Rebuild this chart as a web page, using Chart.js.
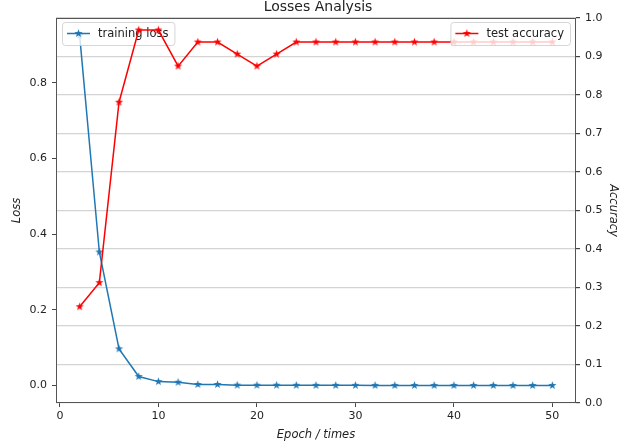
<!DOCTYPE html>
<html>
<head>
<meta charset="utf-8">
<script src="https://cdn.jsdelivr.net/npm/chart.js@4"></script>
<style>
  html, body { margin: 0; padding: 0; background: #fff; }
  #wrap { width: 636px; height: 448px; }
</style>
</head>
<body>
<div id="wrap"><canvas id="lossChart" width="636" height="448"></canvas></div>
<script>
let epochs = [2, 4, 6, 8, 10, 12, 14, 16, 18, 20, 22, 24, 26, 28, 30, 32, 34, 36, 38, 40, 42, 44, 46, 48, 50];
let trainingLoss = [0.925, 0.353, 0.097, 0.024, 0.0105, 0.0087, 0.003, 0.003, 0.0012, 0.001, 0.001, 0.0008, 0.0007,
    0.0006, 0.0006, 0.0005, 0.0005, 0.0005, 0.0004, 0.0004, 0.0004, 0.0004, 0.0003, 0.0003, 0.0003];
let testAccuracy = [0.25, 0.3125, 0.78125, 0.96875, 0.96875, 0.875, 0.9375, 0.9375, 0.90625, 0.875, 0.90625, 0.9375,
    0.9375, 0.9375, 0.9375, 0.9375, 0.9375, 0.9375, 0.9375, 0.9375, 0.9375, 0.9375, 0.9375, 0.9375, 0.9375];
let xTicks = [0, 10, 20, 30, 40, 50];
let lossTicks = [0, 0.2, 0.4, 0.6, 0.8];
let accTicks = [0, 0.1, 0.2, 0.3, 0.4, 0.5, 0.6, 0.7, 0.8, 0.9, 1.0];

const BLUE = "#1f77b4";
const RED = "#ff0000";
const FONT = "'DejaVu Sans', sans-serif";

// filled star like matplotlib '*'
function starImage(color) {
    let c = document.createElement("canvas");
    c.width = 11; c.height = 11;
    let g = c.getContext("2d");
    g.fillStyle = color;
    g.beginPath();
    for (let i = 0; i < 10; i++) {
        let r = i % 2 ? 1.7 : 4.3;
        let a = -Math.PI / 2 + i * Math.PI / 5;
        g.lineTo(5.5 + r * Math.cos(a), 5.5 + r * Math.sin(a));
    }
    g.closePath();
    g.fill();
    return c;
}
let blueStar = starImage(BLUE);
let redStar = starImage(RED);

function drawLegend(ctx, x, y, label, color, star, alignRight) {
    ctx.save();
    ctx.font = "11.5px " + FONT;
    let w = 37 + ctx.measureText(label).width + 5;
    let h = 23;
    if (alignRight) x = x - w;
    ctx.beginPath();
    ctx.roundRect(x + 0.5, y + 0.5, w, h, 3);
    ctx.fillStyle = "rgba(255,255,255,0.8)";
    ctx.fill();
    ctx.strokeStyle = "rgba(204,204,204,0.8)";
    ctx.lineWidth = 1;
    ctx.stroke();
    ctx.strokeStyle = color;
    ctx.lineWidth = 1.5;
    ctx.beginPath();
    ctx.moveTo(x + 5, y + h / 2);
    ctx.lineTo(x + 28, y + h / 2);
    ctx.stroke();
    ctx.drawImage(star, x + 16.5 - 5.5, y + h / 2 - 5.5);
    ctx.fillStyle = "#222";
    ctx.textBaseline = "middle";
    ctx.fillText(label, x + 36, y + h / 2 + 0.5);
    ctx.restore();
}

const legendsAndFrame = {
    id: "legendsAndFrame",
    afterDatasetDraw(chart, args) {
        if (args.index === 0) {
            let a = chart.chartArea;
            drawLegend(chart.ctx, a.left + 6, a.top + 4, "training loss", BLUE, blueStar, false);
        }
    },
    afterDatasetsDraw(chart) {
        let a = chart.chartArea;
        let ctx = chart.ctx;
        drawLegend(ctx, a.right - 6, a.top + 4, "test accuracy", RED, redStar, true);
        ctx.save();
        ctx.strokeStyle = "#555";
        ctx.lineWidth = 1;
        ctx.strokeRect(Math.round(a.left) + 0.5, Math.round(a.top) + 0.5, Math.round(a.right - a.left) - 1, Math.round(a.bottom - a.top) - 1);
        ctx.restore();
    }
};

let tickFont = { family: FONT, size: 11 };
let titleFont = { family: FONT, size: 11.5, style: "italic" };

let ctx = document.getElementById("lossChart").getContext("2d");
let chartInstance = new Chart(ctx, {
    type: "line",
    data: {
        datasets: [{
            label: "training loss",
            data: epochs.map((e, i) => ({ x: e, y: trainingLoss[i] })),
            borderColor: BLUE,
            backgroundColor: BLUE,
            borderWidth: 1.5,
            pointStyle: blueStar,
            pointRadius: 4,
            yAxisID: "y",
            order: 1
        }, {
            label: "test accuracy",
            data: epochs.map((e, i) => ({ x: e, y: testAccuracy[i] })),
            borderColor: RED,
            backgroundColor: RED,
            borderWidth: 1.5,
            pointStyle: redStar,
            pointRadius: 4,
            yAxisID: "y2",
            order: 0
        }]
    },
    options: {
        responsive: false,
        animation: false,
        devicePixelRatio: 1,
        layout: { padding: 0 },
        plugins: {
            legend: { display: false },
            tooltip: { enabled: false },
            title: {
                display: true,
                text: "Losses Analysis",
                color: "#222",
                font: { family: FONT, size: 14, weight: "normal", lineHeight: 1.0 },
                padding: { top: 0, bottom: 4 }
            }
        },
        scales: {
            x: {
                type: "linear",
                min: -0.4,
                max: 52.4,
                afterBuildTicks: s => { s.ticks = xTicks.map(v => ({ value: v })); },
                afterFit: s => { s.height = 45; },
                ticks: { color: "#222", font: tickFont, padding: 3, maxRotation: 0 },
                grid: { drawOnChartArea: false, tickLength: 4, tickColor: "#444" },
                border: { display: false },
                title: { display: true, text: "Epoch / times", color: "#222", font: titleFont, padding: { top: 0, bottom: 6.2 } }
            },
            y: {
                position: "left",
                min: -0.046,
                max: 0.971,
                afterBuildTicks: s => { s.ticks = lossTicks.map(v => ({ value: v })); },
                afterFit: s => { s.width = 56; },
                ticks: { color: "#222", font: tickFont, padding: 5, callback: v => v.toFixed(1) },
                grid: { drawOnChartArea: false, tickLength: 4, tickColor: "#444" },
                border: { display: false },
                title: { display: true, text: "Loss", color: "#222", font: titleFont, padding: { top: 10.2, bottom: 0 } }
            },
            y2: {
                position: "right",
                min: 0,
                max: 1,
                afterBuildTicks: s => { s.ticks = accTicks.map(v => ({ value: v })); },
                afterFit: s => { s.width = 60; },
                ticks: { color: "#222", font: tickFont, padding: 5, callback: v => v.toFixed(1) },
                grid: { color: "#d4d4d4", lineWidth: 1.2, tickLength: 4, tickColor: "#444" },
                border: { display: false },
                title: { display: true, text: "Accuracy", color: "#222", font: titleFont, padding: { top: 16.4, bottom: 0 } }
            }
        }
    },
    plugins: [legendsAndFrame]
});
</script>
</body>
</html>
